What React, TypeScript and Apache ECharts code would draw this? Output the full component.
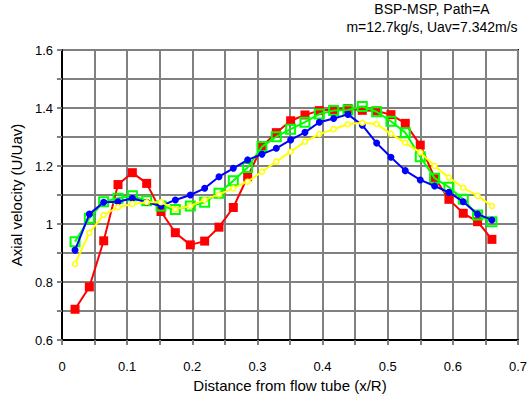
import React, { useEffect, useRef } from "react";
import * as echarts from "echarts";

const xValues = [
  0.020, 0.042, 0.064, 0.086, 0.108, 0.130, 0.152, 0.174, 0.197, 0.219,
  0.241, 0.263, 0.285, 0.307, 0.329, 0.351, 0.373, 0.395, 0.417, 0.439,
  0.461, 0.483, 0.505, 0.527, 0.550, 0.572, 0.594, 0.616, 0.638, 0.660,
];

const redValues = [
  0.706, 0.783, 0.942, 1.136, 1.177, 1.14, 1.043, 0.97, 0.928, 0.941,
  0.989, 1.057, 1.163, 1.267, 1.315, 1.356, 1.376, 1.391, 1.395, 1.398,
  1.392, 1.39, 1.377, 1.347, 1.272, 1.16, 1.085, 1.037, 1.008, 0.947,
];

const blueValues = [
  0.91, 1.034, 1.075, 1.077, 1.089, 1.075, 1.062, 1.083, 1.1, 1.123,
  1.163, 1.192, 1.221, 1.241, 1.261, 1.29, 1.316, 1.351, 1.364, 1.378,
  1.341, 1.279, 1.23, 1.184, 1.152, 1.131, 1.109, 1.077, 1.034, 1.014,
];

const greenValues = [
  0.939, 1.02, 1.077, 1.089, 1.097, 1.08, 1.062, 1.05, 1.062, 1.075,
  1.106, 1.149, 1.195, 1.267, 1.301, 1.327, 1.351, 1.379, 1.391, 1.393,
  1.405, 1.387, 1.354, 1.315, 1.232, 1.158, 1.127, 1.085, 1.031, 1.008,
];

const yellowValues = [
  0.862, 0.97, 1.031, 1.058, 1.069, 1.075, 1.075, 1.051, 1.062, 1.083,
  1.102, 1.123, 1.146, 1.18, 1.215, 1.249, 1.284, 1.31, 1.327, 1.344,
  1.349, 1.345, 1.311, 1.28, 1.247, 1.2, 1.16, 1.125, 1.097, 1.062,
];

const titleLines = ["BSP-MSP, Path=A", "m=12.7kg/s, Uav=7.342m/s"];
const xAxisName = "Distance from flow tube (x/R)";
const yAxisName = "Axial velocity (U/Uav)";

const FONT = "Liberation Sans, Arial, sans-serif";

function pairs(ys: number[]) {
  return xValues.map((x, i) => [x, ys[i]]);
}

export default function App() {
  const ref = useRef<HTMLDivElement>(null);
  useEffect(() => {
    if (!ref.current) return;
    const chart = echarts.init(ref.current, undefined, { renderer: "svg" });
    const gridLine = { show: true, lineStyle: { color: "#808080", width: 2 } };
    chart.setOption({
      animation: false,
      backgroundColor: "#ffffff",
      textStyle: { fontFamily: FONT },
      title: {
        text: titleLines.join("\n"),
        left: 432,
        top: 0,
        padding: 0,
        textAlign: "center",
        textStyle: {
          fontFamily: FONT,
          fontSize: 14,
          fontWeight: "normal",
          color: "#000",
          lineHeight: 18,
          align: "center",
        },
      },
      grid: {
        left: 62,
        right: 10,
        top: 50,
        bottom: 63,
        show: true,
        borderColor: "#000",
        borderWidth: 2,
        backgroundColor: "transparent",
      },
      xAxis: {
        type: "value",
        min: 0,
        max: 0.7,
        interval: 0.05,
        name: xAxisName,
        nameLocation: "middle",
        nameGap: 37,
        nameTextStyle: { fontFamily: FONT, fontSize: 15, color: "#000" },
        axisLine: { show: true, lineStyle: { color: "#000", width: 2 } },
        axisTick: { show: true, length: 5, lineStyle: { color: "#808080", width: 2 } },
        splitLine: gridLine,
        axisLabel: {
          fontFamily: FONT,
          fontSize: 13,
          color: "#000",
          margin: 20,
          showMinLabel: true,
          showMaxLabel: true,
          formatter: (v: number) => {
            const k = Math.round(v * 100);
            if (k % 10 !== 0) return "";
            return String(k / 100);
          },
        },
      },
      yAxis: {
        type: "value",
        min: 0.6,
        max: 1.6,
        interval: 0.1,
        name: yAxisName,
        nameLocation: "middle",
        nameGap: 38,
        nameTextStyle: { fontFamily: FONT, fontSize: 15, color: "#000" },
        axisLine: { show: true, lineStyle: { color: "#000", width: 2 } },
        axisTick: { show: true, length: 5, lineStyle: { color: "#808080", width: 2 } },
        splitLine: gridLine,
        axisLabel: {
          fontFamily: FONT,
          fontSize: 13,
          color: "#000",
          margin: 9,
          showMinLabel: true,
          showMaxLabel: true,
          formatter: (v: number) => {
            const k = Math.round(v * 10);
            if (k % 2 !== 0) return "";
            return String(k / 10);
          },
        },
      },
      series: [
        {
          type: "line",
          data: pairs(redValues),
          symbol: "rect",
          symbolSize: 9,
          lineStyle: { color: "#ff0000", width: 2 },
          itemStyle: { color: "#ff0000" },
          z: 2,
        },
        {
          type: "line",
          data: pairs(greenValues),
          symbol: "rect",
          symbolSize: 9,
          lineStyle: { color: "#00ff00", width: 2 },
          itemStyle: { color: "rgba(0,0,0,0)", borderColor: "#00ff00", borderWidth: 2 },
          z: 3,
        },
        {
          type: "line",
          data: pairs(blueValues),
          symbol: "circle",
          symbolSize: 7,
          lineStyle: { color: "#0000ff", width: 2 },
          itemStyle: { color: "#0000ff" },
          z: 4,
        },
        {
          type: "line",
          data: pairs(yellowValues),
          symbol: "circle",
          symbolSize: 5,
          lineStyle: { color: "#ffff00", width: 2 },
          itemStyle: { color: "#ffffff", borderColor: "#ffff00", borderWidth: 1.5 },
          z: 5,
        },
      ],
    });
    return () => chart.dispose();
  }, []);
  return (
    <div
      ref={ref}
      style={{ position: "fixed", left: 0, top: 0, width: 530, height: 403 }}
    />
  );
}
